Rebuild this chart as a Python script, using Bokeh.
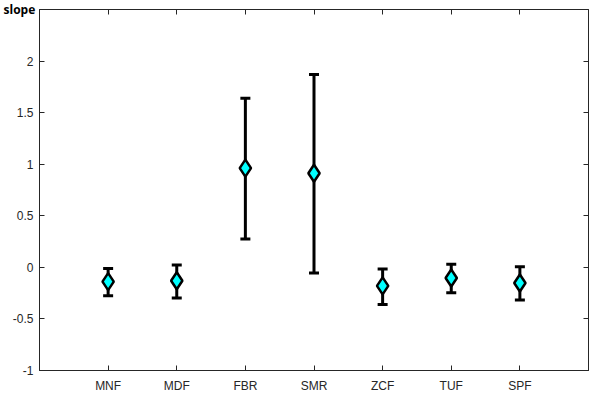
from bokeh.plotting import figure
from bokeh.models import (ColumnDataSource, Whisker, TeeHead, Range1d, FixedTicker,
                          LinearAxis, CustomJSTickFormatter)
from bokeh.embed import file_html
from bokeh.resources import INLINE

categories = ["MNF", "MDF", "FBR", "SMR", "ZCF", "TUF", "SPF"]
slope = [-0.138, -0.130, 0.962, 0.913, -0.180, -0.103, -0.152]
upper = [-0.010, 0.024, 1.640, 1.870, -0.016, 0.030, 0.007]
lower = [-0.275, -0.296, 0.275, -0.055, -0.360, -0.245, -0.316]
y_ticks = [-1, -0.5, 0, 0.5, 1, 1.5, 2]
y_title = "slope"

xs = list(range(1, len(categories) + 1))
src = ColumnDataSource(dict(x=xs, y=slope, upper=upper, lower=lower))

p = figure(width=603, height=397, output_backend="svg", toolbar_location=None,
           x_range=Range1d(0, len(categories) + 1), y_range=Range1d(-1, 2.5),
           min_border_left=39, min_border_right=15, min_border_top=9, min_border_bottom=27)
p.xgrid.visible = False
p.ygrid.visible = False
p.outline_line_color = "#262626"
p.outline_line_width = 1
p.background_fill_color = "white"
p.border_fill_color = "white"

# y-axis title shown horizontally at the top-left, as in the reference
p.title.text = y_title
p.title.align = "left"
p.title.offset = -36
p.title.standoff = -16
p.title.vertical_align = "bottom"
p.title.text_font = "Open Sans"
p.title.text_font_style = "bold"
p.title.text_font_size = "12px"
p.title.text_color = "black"

axcol = "#262626"
font = "Liberation Sans"

xa = p.xaxis[0]
xa.ticker = FixedTicker(ticks=xs)
xa.major_label_overrides = {i: c for i, c in zip(xs, categories)}
ya = p.yaxis[0]
ya.ticker = FixedTicker(ticks=y_ticks)
ya.formatter = CustomJSTickFormatter(code="return tick.toString();")

for ax in (xa, ya):
    ax.axis_line_color = axcol
    ax.major_tick_line_color = axcol
    ax.major_tick_in = 5
    ax.major_tick_out = 0
    ax.minor_tick_line_color = None
    ax.major_label_text_font = font
    ax.major_label_text_font_size = "12px"
    ax.major_label_text_color = axcol
xa.major_label_standoff = 8
ya.major_label_standoff = 6

blank = CustomJSTickFormatter(code="return '';")
top = LinearAxis(ticker=FixedTicker(ticks=xs), formatter=blank,
                 major_label_standoff=0, major_tick_in=5, major_tick_out=0,
                 minor_tick_line_color=None, axis_line_color=axcol, major_tick_line_color=axcol)
right = LinearAxis(ticker=FixedTicker(ticks=y_ticks), formatter=blank,
                   major_label_standoff=0, major_tick_in=5, major_tick_out=0,
                   minor_tick_line_color=None, axis_line_color=axcol, major_tick_line_color=axcol)
p.add_layout(top, "above")
p.add_layout(right, "right")

w = Whisker(source=src, base="x", upper="upper", lower="lower",
            line_color="black", line_width=3, level="underlay",
            upper_head=TeeHead(size=10, line_width=3, line_color="black"),
            lower_head=TeeHead(size=10, line_width=3, line_color="black"))
p.add_layout(w)

p.scatter("x", "y", source=src, marker="diamond", size=17,
          fill_color="#00FFFF", line_color="black", line_width=2.5)

open("out.html", "w").write(file_html(p, INLINE))
